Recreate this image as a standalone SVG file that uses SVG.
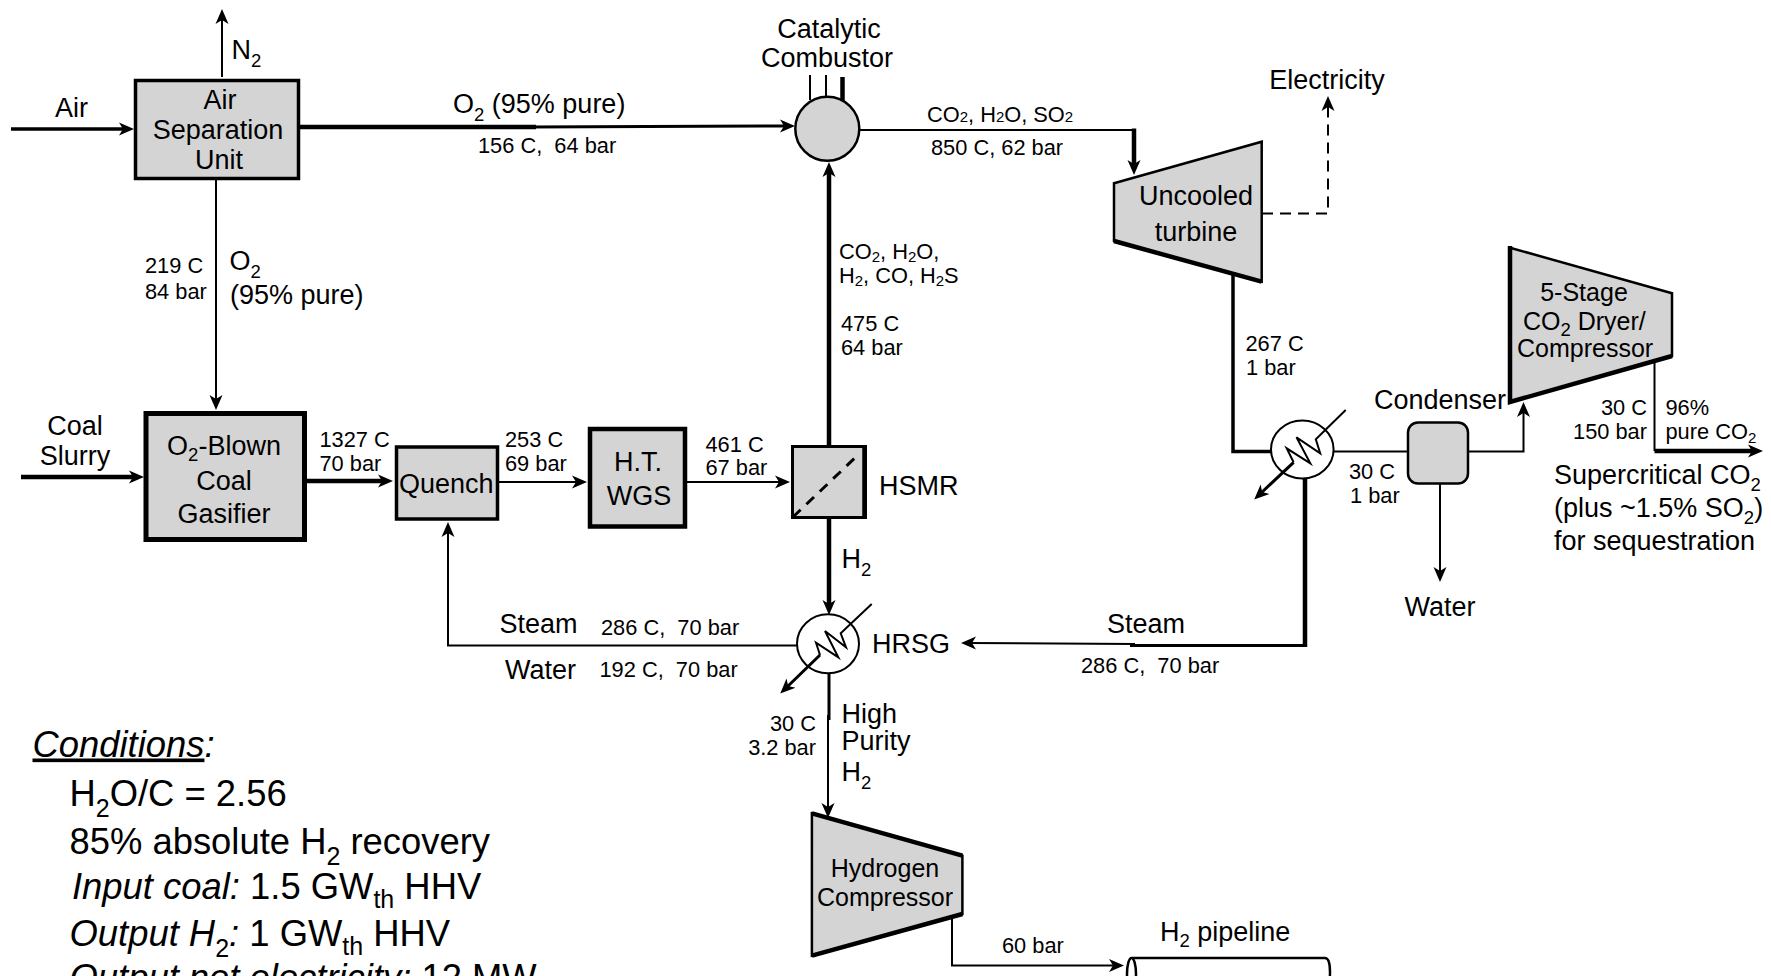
<svg xmlns="http://www.w3.org/2000/svg" width="1771" height="976" viewBox="0 0 1771 976">
<style>
text{font-family:"Liberation Sans",Arial,sans-serif;fill:#000;white-space:pre}
.t{font-size:27px}
.t2{font-size:25px}
.m{font-size:21.8px}
.c{font-size:36.400px}
.i{font-style:italic}
.mid{text-anchor:middle}
.end{text-anchor:end}
.sub{font-size:18.500px}
.msub{font-size:15px}
.csub{font-size:25px;font-style:normal}
.box{fill:#d4d4d4;stroke:#000}
.edge{fill:none;stroke:#000;stroke-linejoin:miter}
.thin{stroke-width:2}
.mid2{stroke-width:3}
.mid3{stroke-width:3.500}
.thick{stroke-width:4.500}
.arrow{marker-end:url(#ah)}
.dash{stroke-dasharray:11 7}
</style>
<defs>
<marker id="ah" markerUnits="userSpaceOnUse" markerWidth="18" markerHeight="16" refX="7" refY="7" orient="auto"><path d="M0,0.500 L15,7 L0,13.500 L4,7 Z" fill="#000"/></marker>
</defs>
<rect width="1771" height="976" fill="#fff"/>
<g id="connectors">
<path class="edge mid3 arrow" d="M11,129 H126"/>
<path class="edge thin arrow" d="M222,77 V17"/>
<path class="edge thick" d="M298,127 H536"/>
<path class="edge mid2 arrow" d="M530,127 L787,126"/>
<path class="edge thin arrow" d="M216,180 V402"/>
<path class="edge thick arrow" d="M21,477 H136"/>
<path class="edge thick arrow" d="M307,481 H385"/>
<path class="edge thin arrow" d="M496,482 H579"/>
<path class="edge thin arrow" d="M686,482 H782"/>
<path class="edge thick arrow" d="M829,445 V170"/>
<path class="edge thick arrow" d="M829,519 V607"/>
<path class="edge thin arrow" d="M797,645.500 H448 V530"/>
<path class="edge thick" d="M1305,479 V647"/>
<path class="edge mid2" d="M1307,645.500 H1130"/>
<path class="edge thin arrow" d="M1135,644 L969,643"/>
<path class="edge thin" d="M810,75 V100"/>
<path class="edge thin" d="M826,75 V97"/>
<path class="edge thick" d="M842.500,77 V102"/>
<path class="edge thin" d="M859,130 H1134"/>
<path class="edge thick arrow" d="M1134,128.500 V167"/>
<path class="edge thin dash arrow" d="M1262,213.500 H1328 V104"/>
<path class="edge mid3" d="M1233,275 V451.500 H1271"/>
<path class="edge thin" d="M1333,451.500 H1408"/>
<path class="edge thin arrow" d="M1468,451.500 H1523.500 V410"/>
<path class="edge thin arrow" d="M1440,484 V574"/>
<path class="edge thin" d="M1654.500,363 V451"/>
<path class="edge thick arrow" d="M1654.500,451 H1755"/>
<path class="edge mid2" d="M829,673 V720"/>
<path class="edge thin arrow" d="M828,715 V810"/>
<path class="edge thin arrow" d="M952,916 V965.500 H1116"/>
</g>
<g id="asu"><rect class="box" x="135.500" y="80.500" width="163" height="98" stroke-width="3.500"/>
<text class="t mid" x="220" y="109">Air</text><text class="t mid" x="218" y="138.500">Separation</text><text class="t mid" x="219" y="168.500">Unit</text></g>
<g id="gasifier"><rect class="box" x="146" y="413.500" width="158.500" height="126" stroke-width="5"/>
<text class="t mid" x="224" y="455">O<tspan class="sub" dy="6">2</tspan><tspan dy="-6">-Blown</tspan></text><text class="t mid" x="224" y="489.500">Coal</text><text class="t mid" x="224" y="523">Gasifier</text></g>
<g id="quench"><rect class="box" x="396.500" y="447" width="101" height="72" stroke-width="3.500"/>
<text class="t" x="399" y="492.500">Quench</text></g>
<g id="wgs"><rect class="box" x="590" y="429" width="95" height="97.500" stroke-width="4.500"/>
<text class="t mid" x="638" y="470.500">H.T.</text><text class="t mid" x="639" y="505">WGS</text></g>
<g id="hsmr"><rect class="box" x="792.500" y="446.500" width="73" height="71" stroke-width="3"/>
<path class="edge thick" d="M864.500,445 V519"/>
<path class="edge mid2" d="M793,517 L857,456" stroke-dasharray="10.500 8"/>
<text class="t" x="879" y="495">HSMR</text></g>
<g id="combustor"><ellipse class="box" cx="827.300" cy="128.700" rx="32" ry="32" stroke-width="2.500"/>
<text class="t mid" x="829" y="38">Catalytic</text><text class="t mid" x="827" y="66.500">Combustor</text></g>
<g id="hrsg"><ellipse cx="828" cy="643.800" rx="31" ry="29.500" fill="#fff" stroke="#000" stroke-width="2"/>
<path class="edge thin" d="M871.700,604 L840.700,633.300 L846,647.300 L825,631 L838.300,657.300 L816,642.700 L820,655"/>
<path class="edge mid2 arrow" d="M820,655 L786,688"/>
<text class="t" x="872" y="652.500">HRSG</text></g>
<g id="turbine"><polygon class="box" points="1114,183.300 1261.700,141.700 1261.700,281.700 1114,241" stroke-width="2.500"/>
<path class="edge thick" d="M1114,241 L1261.700,281.700"/>
<text class="t mid" x="1196" y="204.500">Uncooled</text><text class="t mid" x="1196" y="240.500">turbine</text></g>
<g id="condenser-hx"><ellipse cx="1302.300" cy="449.500" rx="31.300" ry="29" fill="#fff" stroke="#000" stroke-width="2"/>
<path class="edge thin" d="M1345.700,410 L1315.800,439.300 L1320.200,453.300 L1296.500,437.300 L1310.300,463.300 L1286.700,448.300 L1293.600,462.300"/>
<path class="edge mid2 arrow" d="M1293.600,462.300 L1260,494"/>
</g>
<g id="condenser"><rect class="box" x="1408" y="422.500" width="60" height="61" rx="10" stroke-width="2.500"/>
<text class="t" x="1374" y="408.500">Condenser</text></g>
<g id="co2-compressor"><polygon class="box" points="1510,247.700 1672,293.300 1672,356 1510,401.700" stroke-width="2.500"/>
<path class="edge thick" d="M1510,246 V402 L1672,356"/>
<text class="t2 mid" x="1584" y="301">5-Stage</text><text class="t2" x="1523" y="330">CO<tspan class="sub" dy="6">2</tspan><tspan dy="-6"> Dryer/</tspan></text><text class="t2" x="1517" y="356.500">Compressor</text></g>
<g id="h2-compressor"><polygon class="box" points="811.900,813.300 962.400,855.700 962.400,914 811.900,955.700" stroke-width="2.500"/>
<path class="edge thick" d="M811.900,813.300 L962.400,855.700 M962.400,914 L811.900,955.700"/>
<text class="t2 mid" x="885" y="877">Hydrogen</text><text class="t2 mid" x="885" y="905.500">Compressor</text></g>
<g id="pipeline"><path d="M1132,958 H1325 Q1330,958 1330,972 Q1330,990 1325,990 H1132" fill="#fff" stroke="#000" stroke-width="2.500"/>
<ellipse cx="1131.500" cy="974" rx="4.500" ry="16" fill="#fff" stroke="#000" stroke-width="2.500"/>
<text class="t" x="1160" y="940.500">H<tspan class="sub" dy="6">2</tspan><tspan dy="-6"> pipeline</tspan></text></g>
<g id="labels">
<text class="t" x="55" y="116.500">Air</text>
<text class="t" x="231.500" y="59">N<tspan class="sub" dy="8">2</tspan></text>
<text class="t" x="453" y="113">O<tspan class="sub" dy="8">2</tspan><tspan dy="-8"> (95% pure)</tspan></text>
<text class="m" x="478" y="153">156 C,  64 bar</text>
<text class="m" x="145" y="273">219 C</text><text class="m" x="145" y="299">84 bar</text>
<text class="t" x="229.500" y="270">O<tspan class="sub" dy="8">2</tspan></text><text class="t" x="230" y="304">(95% pure)</text>
<text class="t mid" x="75" y="435">Coal</text><text class="t mid" x="75" y="465">Slurry</text>
<text class="m" x="319.500" y="447">1327 C</text><text class="m" x="319.500" y="471">70 bar</text>
<text class="m" x="505" y="447">253 C</text><text class="m" x="505" y="471">69 bar</text>
<text class="m" x="705.500" y="451.500">461 C</text><text class="m" x="705.500" y="475">67 bar</text>
<text class="t" x="499.500" y="632.500">Steam</text><text class="t" x="505" y="679">Water</text>
<text class="m" x="601" y="635">286 C,  70 bar</text><text class="m" x="599.500" y="676.500">192 C,  70 bar</text>
<text class="m" x="927" y="121.500">CO<tspan class="msub">2</tspan>, H<tspan class="msub">2</tspan>O, SO<tspan class="msub">2</tspan></text>
<text class="m" x="931" y="155">850 C, 62 bar</text>
<text class="m" x="839" y="259">CO<tspan class="msub" dy="3">2</tspan><tspan dy="-3">, H</tspan><tspan class="msub" dy="3">2</tspan><tspan dy="-3">O,</tspan></text>
<text class="m" x="839" y="283">H<tspan class="msub" dy="3">2</tspan><tspan dy="-3">, CO, H</tspan><tspan class="msub" dy="3">2</tspan><tspan dy="-3">S</tspan></text>
<text class="m" x="841" y="331">475 C</text><text class="m" x="841" y="355">64 bar</text>
<text class="t" x="841.500" y="568">H<tspan class="sub" dy="8">2</tspan></text>
<text class="t" x="1107" y="632.500">Steam</text>
<text class="m" x="1081" y="673">286 C,  70 bar</text>
<text class="t" x="841.500" y="722.500">High</text><text class="t" x="841.500" y="750">Purity</text><text class="t" x="841.500" y="780.500">H<tspan class="sub" dy="8">2</tspan></text>
<text class="m end" x="816" y="730.500">30 C</text><text class="m end" x="816" y="754.500">3.2 bar</text>
<text class="m" x="1002" y="953">60 bar</text>
<text class="t mid" x="1327" y="88.500">Electricity</text>
<text class="m" x="1245.500" y="351">267 C</text><text class="m" x="1246" y="375">1 bar</text>
<text class="m" x="1349" y="478.500">30 C</text><text class="m" x="1350" y="502.500">1 bar</text>
<text class="t mid" x="1440" y="616">Water</text>
<text class="m end" x="1647" y="415">30 C</text><text class="m end" x="1647" y="439">150 bar</text>
<text class="m" x="1665.500" y="415">96%</text><text class="m" x="1665.500" y="439">pure CO<tspan class="msub" dy="4">2</tspan></text>
<text class="t" x="1554" y="484">Supercritical CO<tspan class="sub" dy="7">2</tspan></text>
<text class="t" x="1554" y="516.500">(plus ~1.5% SO<tspan class="sub" dy="7">2</tspan><tspan dy="-7">)</tspan></text>
<text class="t" x="1554" y="550">for sequestration</text>
<text class="c i" x="32.500" y="756.500"><tspan text-decoration="underline">Conditions</tspan>:</text>
<text class="c" x="69.500" y="806">H<tspan class="csub" dy="11">2</tspan><tspan dy="-11">O/C = 2.56</tspan></text>
<text class="c" x="69.500" y="854">85% absolute H<tspan class="csub" dy="11">2</tspan><tspan dy="-11"> recovery</tspan></text>
<text class="c" x="72" y="898.500"><tspan class="i">Input coal:</tspan> 1.5 GW<tspan class="csub" dy="9">th</tspan><tspan dy="-9"> HHV</tspan></text>
<text class="c" x="69.500" y="946"><tspan class="i">Output H</tspan><tspan class="csub" dy="11">2</tspan><tspan class="i" dy="-11">:</tspan> 1 GW<tspan class="csub" dy="9">th</tspan><tspan dy="-9"> HHV</tspan></text>
<text class="c" x="69.500" y="990"><tspan class="i">Output net electricity:</tspan> 12 MW</text>
</g>
</svg>
